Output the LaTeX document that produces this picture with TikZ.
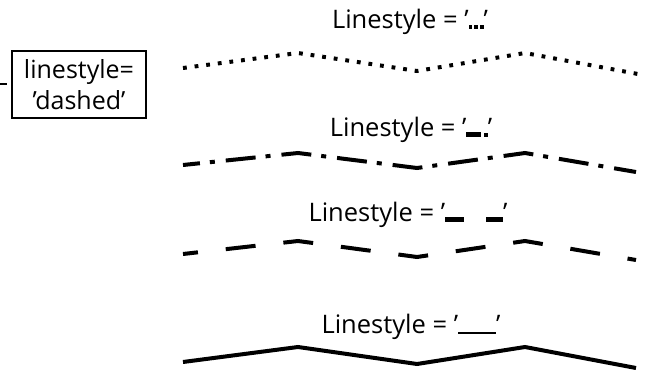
\documentclass[tikz,border=0pt]{standalone}
\usepackage{fontspec}
\setmainfont{Open Sans}
\newcommand{\dotmk}{\rule{3.8pt}{3.8pt}}
\begin{document}
\begin{tikzpicture}[x=1pt,y=-1pt,
  lbl/.style={inner sep=0pt, font=\fontsize{25.5}{28}\selectfont},
  zig/.style={line width=4pt, line cap=butt, line join=miter, black}]
\useasboundingbox (0,0) rectangle (649,375);
% legend box
\node[draw, line width=1.3pt, minimum width=134pt, minimum height=67pt, inner sep=0pt,
  align=center, font=\fontsize{25}{31}\selectfont] (legend) at (79,84.5) {linestyle=\\'dashed'};
\coordinate (tickA) at (0,84);
\coordinate (tickB) at (7,84);
\draw[line width=1.2pt] (tickA) -- (tickB);
% labels
\node[lbl] (l1) at (410,22) {Linestyle = '\dotmk\hspace{1.8pt}\dotmk\hspace{1.8pt}\dotmk'};
\node[lbl] (l2) at (411,130) {Linestyle = '\rule{15pt}{4.2pt}\hspace{2.5pt}\dotmk'};
\node[lbl] (l3) at (408,215) {Linestyle = '\rule{19pt}{4.2pt}\hspace{22pt}\rule{17pt}{4.2pt}'};
\node[lbl] (l4) at (411,327) {Linestyle = '\rule{38pt}{1.5pt}'};
% dotted
\coordinate (a1) at (183,68); \coordinate (a2) at (298,53); \coordinate (a3) at (417,71);
\coordinate (a4) at (525,53); \coordinate (a5) at (638,74);
\draw[zig, dash pattern=on 3.8pt off 7.9pt] (a1) -- (a2) -- (a3) -- (a4) -- (a5);
% dash-dot
\coordinate (b1) at (183,165); \coordinate (b2) at (298,153); \coordinate (b3) at (417,168);
\coordinate (b4) at (525,153); \coordinate (b5) at (636,172);
\draw[zig, dash pattern=on 30pt off 10pt on 5pt off 11pt, dash phase=13pt] (b1) -- (b2) -- (b3) -- (b4) -- (b5);
% dashed
\coordinate (c1) at (183,254); \coordinate (c2) at (298,241); \coordinate (c3) at (417,257);
\coordinate (c4) at (525,241); \coordinate (c5) at (636,260);
\draw[zig, dash pattern=on 30pt off 28pt, dash phase=15pt] (c1) -- (c2) -- (c3) -- (c4) -- (c5);
% solid
\coordinate (d1) at (183,362); \coordinate (d2) at (298,347); \coordinate (d3) at (417,364);
\coordinate (d4) at (525,347); \coordinate (d5) at (636,368);
\draw[zig] (d1) -- (d2) -- (d3) -- (d4) -- (d5);
\end{tikzpicture}
\end{document}
